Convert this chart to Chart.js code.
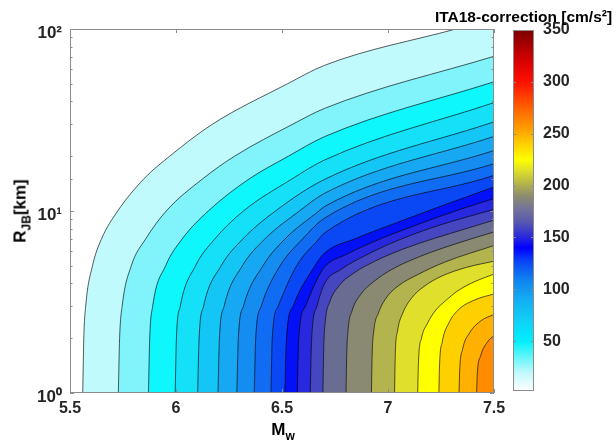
<!DOCTYPE html>
<html><head><meta charset="utf-8">
<script src="https://cdn.jsdelivr.net/npm/chart.js@4.4.1/dist/chart.umd.min.js"></script>
<style>
html,body{margin:0;padding:0;background:#fff;}
#wrap{position:relative;width:616px;height:448px;overflow:hidden;font-family:"Liberation Sans",Arial,sans-serif;}
#main{position:absolute;left:0;top:0;}
#cbar{position:absolute;left:430px;top:0;}
.lbl{position:absolute;font-weight:bold;font-size:17px;color:#000;white-space:nowrap;line-height:17px;}
.lbl sub{font-size:12px;vertical-align:baseline;position:relative;top:5px;line-height:0;}
#xlab{left:283px;top:421px;transform:translateX(-50%);}
#ylab{left:20px;top:211px;transform:translate(-50%,-50%) rotate(-90deg);}
</style></head>
<body><div id="wrap">
<canvas id="main" width="616" height="448"></canvas>
<canvas id="cbar" width="186" height="448"></canvas>
<div class="lbl" id="xlab">M<sub>w</sub></div>
<div class="lbl" id="ylab">R<sub>JB</sub>[km]</div>
</div>
<script>
// ---------- data ----------
const magnitudeRange = [5.5, 7.5];
const distanceRange = [1, 100];
const colorbarRange = [2, 350];
const colorbarTicks = [50, 100, 150, 200, 250, 300, 350];
const colorbarTitle = 'ITA18-correction [cm/s²]';
const contourLevels = [13, 27, 40, 53, 67, 80, 93, 107, 120, 133, 147, 160, 173, 187, 200, 213, 227, 240, 253, 267];

// contour lines: [Mw, R_JB km]
const contour01 = [[5.56,1],[5.565,2],[5.574,3],[5.606,5],[5.648,7],[5.725,10],[5.848,15],[5.97,20],[6.172,30],[6.526,50],[6.7,63.1],[7.32,100],[7.5,114]];
const contour02 = [[5.728,1],[5.734,2],[5.746,3],[5.789,5],[5.856,7],[5.954,10],[6.125,15],[6.276,20],[6.551,30],[6.7,36.6],[7.5,70.8]];
const contour03 = [[5.87,1],[5.876,2],[5.89,3],[5.951,5],[6.028,7],[6.152,10],[6.345,15],[6.53,20],[6.7,25.6],[7.5,51.3]];
const contour04 = [[5.996,1],[6.002,2],[6.02,3],[6.092,5],[6.182,7],[6.318,10],[6.547,15],[6.7,19.05],[7.5,39.4]];
const contour05 = [[6.102,1],[6.109,2],[6.13,3],[6.213,5],[6.314,7],[6.469,10],[6.7,14.9],[7.5,30.9]];
const contour06 = [[6.198,1],[6.205,2],[6.227,3],[6.313,5],[6.418,7],[6.582,10],[6.7,12.5],[7.5,25.7]];
const contour07 = [[6.287,1],[6.294,2],[6.318,3],[6.41,5],[6.513,7],[6.674,10],[6.7,10.57],[7.5,21.5]];
const contour08 = [[6.369,1],[6.376,2],[6.402,3],[6.491,5],[6.596,7],[6.7,9.12],[7.5,18.2]];
const contour09 = [[6.448,1],[6.454,2],[6.482,3],[6.569,5],[6.673,7],[6.7,7.57],[7.5,15.7]];
const contour10 = [[6.513,1],[6.521,2],[6.552,3],[6.655,5],[6.7,5.87],[6.85,7.08],[7.05,8.71],[7.28,10.96],[7.5,13.55]];
const contour11 = [[6.572,1],[6.579,2],[6.611,3],[6.656,4],[6.7,4.92],[6.8,5.75],[6.95,6.92],[7.15,8.51],[7.33,10.12],[7.5,11.7]];
const contour12 = [[6.633,1],[6.64,2],[6.665,3],[6.7,3.98],[6.78,4.79],[6.9,5.75],[7.05,6.92],[7.25,8.41],[7.5,10.2]];
const contour13 = [[6.693,1],[6.697,1.78],[6.705,2.51],[6.725,3.16],[6.77,3.89],[6.84,4.57],[6.94,5.31],[7.07,6.17],[7.22,7.08],[7.36,7.94],[7.5,8.91]];
const contour14 = [[6.802,1],[6.805,1.585],[6.812,2.24],[6.83,2.82],[6.87,3.47],[6.93,4.07],[7.02,4.79],[7.15,5.62],[7.32,6.61],[7.5,7.67]];
const contour15 = [[6.922,1],[6.925,1.585],[6.933,2.19],[6.955,2.75],[6.99,3.31],[7.05,3.89],[7.14,4.47],[7.27,5.25],[7.5,6.46]];
const contour16 = [[7.031,1],[7.034,1.585],[7.045,2.19],[7.07,2.75],[7.11,3.31],[7.17,3.85],[7.25,4.37],[7.37,4.9],[7.5,5.3]];
const contour17 = [[7.14,1],[7.144,1.5],[7.158,2.0],[7.185,2.4],[7.225,2.85],[7.27,3.2],[7.33,3.65],[7.41,4.1],[7.5,4.5]];
const contour18 = [[7.24,1],[7.243,1.41],[7.256,1.91],[7.285,2.4],[7.33,2.85],[7.41,3.25],[7.5,3.5]];
const contour19 = [[7.335,1],[7.338,1.32],[7.352,1.74],[7.385,2.14],[7.44,2.5],[7.5,2.7]];
const contour20 = [[7.418,1],[7.421,1.26],[7.437,1.6],[7.468,1.9],[7.5,2.07]];
const contours = [contour01,contour02,contour03,contour04,contour05,contour06,contour07,contour08,contour09,contour10,
                  contour11,contour12,contour13,contour14,contour15,contour16,contour17,contour18,contour19,contour20];

// ---------- styles ----------
const FONT = '"Liberation Sans", Arial, Helvetica, sans-serif';
const bandColors = ['#c0fafd','#80f3fb','#0ef7fc','#14e0f8','#14c6f6','#16a8f2','#148cf0','#106cf2','#0a48f6','#0410f6',
                    '#2828de','#4646c0','#6a6d92','#8a8a72','#b4b44e','#e0e02c','#ffff00','#ffd000','#ffb000','#ff8c00'];
const colormapStops = [[2,'#ffffff'],[20,'#c0f8fc'],[40,'#40f4fa'],[50,'#00f0fc'],[70,'#10d0f6'],[90,'#14aef2'],[110,'#1080f0'],
  [128,'#0a40f6'],[140,'#0000ff'],[152,'#2e2ed8'],[165,'#5858b0'],[178,'#74749a'],[190,'#8c8c70'],[203,'#b8b848'],
  [215,'#e0e028'],[225,'#ffff00'],[240,'#ffd000'],[255,'#ff9c00'],[270,'#ff7000'],[285,'#ff4000'],[300,'#ff1000'],
  [320,'#d80000'],[350,'#7c0000']];
const frameColor = '#8c8c8c';
const supDigits = {0:'⁰',1:'¹',2:'²'};

function isPow10(v){ const l = Math.log10(v); return Math.abs(l - Math.round(l)) < 1e-9; }

const frameMain = {
  id: 'frameMain',
  afterDatasetsDraw(chart) {
    const {ctx, chartArea: a, scales: {x, y}} = chart;
    ctx.save();
    ctx.strokeStyle = frameColor; ctx.lineWidth = 1;
    ctx.beginPath();
    x.ticks.forEach(t => {
      const px = Math.round(x.getPixelForValue(t.value)) + 0.5;
      ctx.moveTo(px, a.bottom); ctx.lineTo(px, a.bottom - 4);
      ctx.moveTo(px, a.top); ctx.lineTo(px, a.top + 4);
    });
    y.ticks.forEach(t => {
      const py = Math.round(y.getPixelForValue(t.value)) + 0.5;
      const len = isPow10(t.value) ? 4 : 2.5;
      ctx.moveTo(a.left, py); ctx.lineTo(a.left + len, py);
      ctx.moveTo(a.right, py); ctx.lineTo(a.right - len, py);
    });
    ctx.stroke();
    ctx.strokeRect(a.left + 0.5, a.top + 0.5, a.right - a.left - 1, a.bottom - a.top - 1);
    ctx.restore();
  }
};

new Chart(document.getElementById('main'), {
  type: 'line',
  data: {
    datasets: contours.map((pts, i) => ({
      label: 'level ' + contourLevels[i],
      data: pts.map(p => ({x: p[0], y: p[1]})),
      borderColor: 'rgba(0,0,0,0.8)',
      borderWidth: 0.8,
      backgroundColor: bandColors[i],
      fill: 'start',
      pointRadius: 0,
      cubicInterpolationMode: 'monotone',
      order: 100 - i
    }))
  },
  options: {
    responsive: false, animation: false, events: [],
    layout: { padding: { left: 0, right: 122, top: 29, bottom: 0 } },
    plugins: { legend: { display: false }, tooltip: { enabled: false } },
    scales: {
      x: {
        type: 'linear', min: magnitudeRange[0], max: magnitudeRange[1],
        grid: { display: false, drawTicks: false }, border: { display: false },
        afterFit: s => { s.height = 55; },
        ticks: { stepSize: 0.5, padding: 6, color: '#262626', font: { family: FONT, size: 16, weight: 'bold' },
                 callback: v => String(Math.round(v * 10) / 10) }
      },
      y: {
        type: 'logarithmic', min: distanceRange[0], max: distanceRange[1],
        grid: { display: false, drawTicks: false }, border: { display: false },
        afterFit: s => { s.width = 70; },
        ticks: {
          autoSkip: false, padding: 8, labelOffset: 4, color: '#262626',
          font: { family: FONT, size: 17, weight: 'bold' },
          callback: v => isPow10(v) ? '10' + supDigits[Math.round(Math.log10(v))] : ''
        }
      }
    }
  },
  plugins: [frameMain]
});

const cbDecor = {
  id: 'cbDecor',
  afterDatasetsDraw(chart) {
    const {ctx, chartArea: a, scales: {y}} = chart;
    ctx.save();
    ctx.strokeStyle = frameColor; ctx.lineWidth = 1;
    ctx.beginPath();
    colorbarTicks.forEach(v => {
      const py = Math.round(y.getPixelForValue(v)) + 0.5;
      ctx.moveTo(a.right, py); ctx.lineTo(a.right - 3, py);
      ctx.moveTo(a.left, py); ctx.lineTo(a.left + 3, py);
    });
    ctx.stroke();
    ctx.strokeRect(a.left + 0.5, a.top + 0.5, a.right - a.left - 1, a.bottom - a.top - 1);
    ctx.fillStyle = '#000';
    ctx.font = 'bold 15.5px ' + FONT;
    ctx.textAlign = 'center'; ctx.textBaseline = 'middle';
    ctx.fillText(colorbarTitle, (a.left + a.right) / 2, 18);
    ctx.restore();
  }
};

new Chart(document.getElementById('cbar'), {
  type: 'bar',
  data: {
    labels: ['ITA18-correction'],
    datasets: [{
      data: [colorbarRange],
      borderWidth: 0, barPercentage: 1, categoryPercentage: 1,
      backgroundColor: c => {
        const ch = c.chart;
        if (!ch.chartArea) return '#ffffff';
        const ys = ch.scales.y;
        const y0 = ys.getPixelForValue(colorbarRange[0]);
        const y1 = ys.getPixelForValue(colorbarRange[1]);
        const g = ch.ctx.createLinearGradient(0, y0, 0, y1);
        colormapStops.forEach(([v, col]) => g.addColorStop((v - colorbarRange[0]) / (colorbarRange[1] - colorbarRange[0]), col));
        return g;
      }
    }]
  },
  options: {
    responsive: false, animation: false, events: [],
    layout: { padding: { left: 83, right: 0, top: 30, bottom: 57 } },
    plugins: { legend: { display: false }, tooltip: { enabled: false } },
    scales: {
      x: { display: false },
      y: {
        position: 'right', min: colorbarRange[0], max: colorbarRange[1],
        grid: { display: false, drawTicks: false }, border: { display: false },
        afterBuildTicks: s => { s.ticks = colorbarTicks.map(v => ({ value: v })); },
        afterFit: s => { s.width = 82; },
        ticks: { padding: 9, color: '#262626', font: { family: FONT, size: 16, weight: 'bold' } }
      }
    }
  },
  plugins: [cbDecor]
});
</script>
</body></html>
